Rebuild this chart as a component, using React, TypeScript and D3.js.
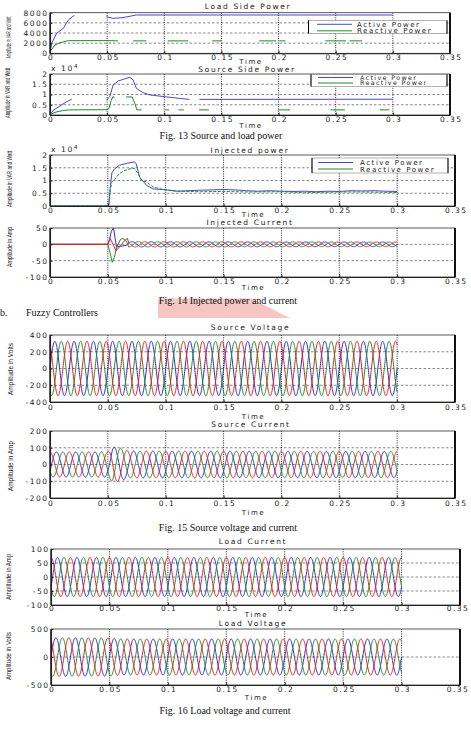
import * as d3 from 'd3';
import { useEffect, useRef } from 'react';

type Pt = [number, number | null];
type Knot = [number, number];

const timeTicks = [0, 0.05, 0.1, 0.15, 0.2, 0.25, 0.3, 0.35];

/* ---------- Fig. 13 : load side power (null = gap in the printed trace) ---------- */
const loadActive: Pt[] = [
  [0, 0], [0.0015, 1970], [0.0058, 3940], [0.0117, 4920], [0.016, 6550], [0.0204, 7340], [0.0215, 7400],
  [0.022, null],
  [0.0495, 7200], [0.055, 6900], [0.063, 7000], [0.07, 7300], [0.0756, 7550], [0.3, 7550],
];
const loadReactive: Pt[] = [
  [0, 350], [0.0044, 1630], [0.0087, 2090], [0.016, 2490], [0.05, 2500], [0.0596, 2450],
  [0.06, null], [0.0727, 2450], [0.0843, 2450],
  [0.085, null], [0.103, 2450], [0.121, 2450],
  [0.122, null], [0.142, 2450], [0.15, 2450],
  [0.151, null], [0.183, 2450], [0.198, 2450],
  [0.199, null], [0.2006, 2450], [0.206, 2450],
  [0.207, null], [0.241, 2450], [0.259, 2450],
  [0.26, null], [0.262, 2450], [0.273, 2450],
];

/* source side power, x 10^4 */
const sourceActive: Pt[] = [
  [0, 0], [0.0029, 0.24], [0.0087, 0.44], [0.0146, 0.65], [0.019, 0.77],
  [0.0195, null],
  [0.0494, 0.73], [0.0523, 0.89], [0.0552, 1.46], [0.0596, 1.66], [0.0654, 1.76], [0.0698, 1.84],
  [0.0727, 1.71], [0.0756, 1.3], [0.0814, 1.09], [0.0872, 0.98], [0.1009, 0.89], [0.1134, 0.81], [0.122, 0.76],
  [0.1225, null],
  [0.1308, 0.76], [0.3, 0.77],
];
const sourceReactive: Pt[] = [
  [0, 0], [0.003, 0.1], [0.007, 0.17], [0.012, 0.22], [0.017, 0.25], [0.05, 0.26],
  [0.0515, 0.3], [0.0535, 0.7], [0.055, 0.9], [0.0565, 0.85],
  [0.058, null], [0.0665, 0.88], [0.072, 0.88], [0.074, 0.6], [0.076, 0.25], [0.08, 0.25],
  [0.081, null], [0.1005, 0.25], [0.104, 0.25],
  [0.105, null], [0.1125, 0.25], [0.117, 0.25],
  [0.118, null], [0.1305, 0.25], [0.139, 0.25],
  [0.14, null], [0.1995, 0.25], [0.21, 0.25],
  [0.211, null], [0.2455, 0.25], [0.258, 0.25],
  [0.259, null], [0.2885, 0.25], [0.297, 0.25],
];

/* ---------- Fig. 14 : injected power (x 10^4) and current ---------- */
const injectedActive: Pt[] = [
  [0, 0], [0.05, 0], [0.0509, 0.05], [0.052, 0.7], [0.0535, 1.3], [0.0558, 1.45], [0.0601, 1.6],
  [0.067, 1.68], [0.0731, 1.73], [0.0745, 1.65], [0.0775, 1.13], [0.0832, 0.82], [0.089, 0.67],
  [0.1, 0.64], [0.11, 0.58], [0.12, 0.6], [0.13, 0.62], [0.14, 0.63], [0.15, 0.65], [0.16, 0.63],
  [0.17, 0.6], [0.18, 0.58], [0.19, 0.6], [0.2, 0.58], [0.21, 0.57], [0.22, 0.58], [0.23, 0.56],
  [0.24, 0.58], [0.25, 0.57], [0.26, 0.6], [0.27, 0.59], [0.28, 0.6], [0.29, 0.58], [0.3, 0.57],
];
const injectedReactive: Pt[] = [
  [0, 0], [0.05, 0], [0.051, 0.1], [0.052, 0.6], [0.0535, 0.95], [0.056, 1.05], [0.06, 1.27],
  [0.065, 1.4], [0.07, 1.47], [0.073, 1.47], [0.076, 1.27], [0.079, 1.0], [0.083, 0.95], [0.086, 0.85],
  [0.089, 0.75], [0.095, 0.68], [0.1, 0.62], [0.11, 0.58], [0.13, 0.56], [0.15, 0.57], [0.17, 0.55],
  [0.2, 0.56], [0.22, 0.52], [0.25, 0.55], [0.27, 0.55], [0.3, 0.53],
];
const injCurBlue: Pt[] = [
  [0, 0], [0.05, 0], [0.0515, 15], [0.053, 40], [0.0549, 50], [0.0562, 20], [0.0575, -8], [0.06, -6],
  [0.063, -5], [0.066, -3],
];
const injCurGreen: Pt[] = [
  [0, 0], [0.05, 0], [0.0515, -20], [0.0538, -55], [0.0555, -40], [0.058, -5], [0.061, 15], [0.063, 18],
  [0.066, 10],
];
const injCurRed: Pt[] = [
  [0, 0], [0.05, 0], [0.0512, 10], [0.052, 18], [0.0545, 0], [0.057, -20], [0.06, -8], [0.064, 10],
  [0.067, 18],
];
const injCurSteadyAmp: Knot[] = [[0.068, 8], [0.3, 7]];

/* ---------- Fig. 15 / 16 : three phase waveforms (60 Hz, peak envelopes) ---------- */
const WAVE_HZ = 60;
const phaseShift = [0, -120, 120]; // blue, green, red (deg)
const sourceVoltageAmp: Knot[] = [[0, 325], [0.3, 325]];
const sourceCurrentAmp: Knot[] = [[0, 75], [0.05, 75], [0.054, 105], [0.06, 100], [0.068, 80], [0.3, 78]];
const currentLag = -30;
const loadCurrentAmp: Knot[] = [[0, 70], [0.3, 70]];
const loadVoltageAmp: Knot[] = [[0, 345], [0.05, 340], [0.06, 322], [0.3, 322]];
const loadVoltageSpike: Pt[] = [[0, -250], [0.0001, 480], [0.0004, 300]];

const legendLabels = ['Active Power', 'Reactive Power'];

const BLUE = '#2a2ade';
const PBLUE = '#4646d8';
const GREEN = '#23892a';
const RED = '#e8201c';
const FONT = '"DejaVu Sans", Verdana, sans-serif';

function wave(env: Knot[], shift: number, t0 = 0, t1 = 0.3): Pt[] {
  const amp = d3.scaleLinear().domain(env.map((d) => d[0])).range(env.map((d) => d[1])).clamp(true);
  return d3.range(t0, t1 + 1e-9, 0.0002).map((t) => [t, amp(t) * Math.sin(2 * Math.PI * WAVE_HZ * t + (shift * Math.PI) / 180)] as Pt);
}

function threePhase(env: Knot[], lag = 0) {
  return [BLUE, GREEN, RED].map((c, i) => ({ data: wave(env, phaseShift[i] + lag), color: c }));
}

export default function App() {
  const ref = useRef<SVGSVGElement | null>(null);

  useEffect(() => {
    if (!ref.current) return;
    const svg = d3.select(ref.current);
    svg.selectAll('*').remove();

    /* pink watermark behind the section heading */
    svg.append('polygon')
      .attr('points', '158,298.5 251,298.5 290,318 158,318')
      .attr('fill', '#f6c6c2');

    const panels: any[] = [
      {
        left: 50, right: 450, top: 12.7, bottom: 53.3, y: [0, 8000], yTicks: [0, 2000, 4000, 6000, 8000],
        title: 'Load Side Power', titleX: 248, titleY: 8.5, timeY: 63.8, pad: 1.5,
        ylabel: 'Amplitude in VAR and Watt', ylabX: 8, ylabY: 37.5, ylabLen: 42,
        series: [
          { data: loadActive, color: PBLUE },
          { data: loadReactive, color: GREEN },
        ],
        legend: { x0: 308.5, x1: 447, y0: 20.5, y1: 33.5, lx: 317, tx: 357, rows: [24.3, 30.8], fs: 7 },
      },
      {
        left: 50, right: 450, top: 74, bottom: 115, y: [0, 2], yTicks: [0, 0.5, 1, 1.5, 2],
        title: 'Source Side Power', titleX: 247, titleY: 72, timeY: 127.5, pad: 1.5, exp: 71,
        ylabel: 'Amplitude in VAR and Watt', ylabX: 7, ylabY: 93, ylabLen: 50,
        series: [
          { data: sourceActive, color: PBLUE },
          { data: sourceReactive, color: GREEN },
        ],
        legend: { x0: 311, x1: 447, y0: 74.5, y1: 86.5, lx: 318, tx: 360, rows: [77.5, 83], fs: 6.3 },
      },
      {
        left: 50, right: 455, top: 155, bottom: 206, y: [0, 2], yTicks: [0, 0.5, 1, 1.5, 2],
        title: 'Injected power', titleX: 250, titleY: 152.5, timeY: 217, pad: 1.2, exp: 152,
        ylabel: 'Amplitude in VAR and Watt', ylabX: 9, ylabY: 179, ylabLen: 56,
        series: [
          { data: injectedActive, color: PBLUE },
          { data: injectedReactive, color: GREEN, dash: '3,1.5' },
        ],
        legend: { x0: 312, x1: 448, y0: 158, y1: 173, lx: 318, tx: 360, rows: [162.5, 169], fs: 7 },
      },
      {
        left: 50, right: 455, top: 228, bottom: 277, y: [-100, 50], yTicks: [-100, -50, 0, 50],
        title: 'Injected Current', titleX: 250, titleY: 224.5, timeY: 290, pad: 1.2,
        ylabel: 'Amplitude in Amp', ylabX: 9, ylabY: 247, ylabLen: 40,
        series: [
          { data: injCurBlue.concat(wave(injCurSteadyAmp, phaseShift[0], 0.068)), color: BLUE },
          { data: injCurGreen.concat(wave(injCurSteadyAmp, phaseShift[1], 0.068)), color: GREEN },
          { data: injCurRed.concat(wave(injCurSteadyAmp, phaseShift[2], 0.068)), color: RED },
        ],
      },
      {
        left: 50, right: 455, top: 335, bottom: 402, y: [-400, 400], yTicks: [-400, -200, 0, 200, 400],
        title: 'Source Voltage', titleX: 250.5, titleY: 330, timeY: 419, pad: 2.2,
        ylabel: 'Amplitude in Volts', ylabX: 10, ylabY: 369, ylabLen: 52,
        series: threePhase(sourceVoltageAmp),
      },
      {
        left: 50, right: 455, top: 431, bottom: 498, y: [-200, 200], yTicks: [-200, -100, 0, 100, 200],
        title: 'Source Current', titleX: 251, titleY: 426.5, timeY: 515, pad: 2.2,
        ylabel: 'Amplitude in Amp', ylabX: 10, ylabY: 466, ylabLen: 50,
        series: threePhase(sourceCurrentAmp, currentLag),
      },
      {
        left: 51, right: 460, top: 549, bottom: 605, y: [-100, 100], yTicks: [-100, -50, 0, 50, 100],
        title: 'Load Current', titleX: 253, titleY: 544, timeY: 617.3, pad: 0.8,
        ylabel: 'Amplitude in Amp', ylabX: 8, ylabY: 577, ylabLen: 46,
        series: threePhase(loadCurrentAmp, currentLag),
      },
      {
        left: 51, right: 460, top: 629, bottom: 685, y: [-500, 500], yTicks: [-500, 0, 500],
        title: 'Load Voltage', titleX: 253, titleY: 625.8, timeY: 700, pad: 1.2,
        ylabel: 'Amplitude in Volts', ylabX: 8, ylabY: 656, ylabLen: 48,
        series: (() => {
          const s = threePhase(loadVoltageAmp);
          s[2] = { data: loadVoltageSpike.concat(s[2].data), color: RED };
          return s;
        })(),
      },
    ];

    panels.forEach((p) => {
      const x = d3.scaleLinear().domain([0, 0.35]).range([p.left, p.right]);
      const y = d3.scaleLinear().domain(p.y).range([p.bottom, p.top]);
      const g = svg.append('g');

      // grid
      g.selectAll('.hg')
        .data(p.yTicks.slice(1, -1))
        .enter()
        .append('line')
        .attr('x1', p.left).attr('x2', p.right)
        .attr('y1', (d: number) => y(d)).attr('y2', (d: number) => y(d))
        .attr('stroke', '#555').attr('stroke-width', 0.7).attr('stroke-dasharray', '2.5,2');
      g.selectAll('.vg')
        .data(timeTicks.slice(1, -1))
        .enter()
        .append('line')
        .attr('x1', (d) => x(d)).attr('x2', (d) => x(d))
        .attr('y1', p.top).attr('y2', p.bottom)
        .attr('stroke', '#111').attr('stroke-width', 0.9).attr('stroke-dasharray', '1,1.3');

      // traces
      const line = d3.line<Pt>()
        .defined((d) => d[1] != null)
        .x((d) => x(d[0]))
        .y((d) => y(d[1] as number));
      p.series.forEach((s: any) => {
        g.append('path')
          .attr('d', line(s.data))
          .attr('fill', 'none')
          .attr('stroke', s.color)
          .attr('stroke-width', 1)
          .attr('stroke-dasharray', s.dash || null);
      });

      // box
      g.append('rect')
        .attr('x', p.left).attr('y', p.top)
        .attr('width', p.right - p.left).attr('height', p.bottom - p.top)
        .attr('fill', 'none').attr('stroke', '#333').attr('stroke-width', 0.8);
      g.append('line')
        .attr('x1', p.right).attr('x2', p.right).attr('y1', p.top).attr('y2', p.bottom)
        .attr('stroke', '#000').attr('stroke-width', 1.8);
      g.append('line')
        .attr('x1', p.left).attr('x2', p.left).attr('y1', p.top).attr('y2', p.bottom)
        .attr('stroke', '#222').attr('stroke-width', 1.1);

      // axes
      const ax = g.append('g')
        .attr('transform', `translate(0,${p.bottom})`)
        .call(d3.axisBottom(x).tickValues(timeTicks).tickFormat((d) => String(d)).tickSizeInner(-2.5).tickSizeOuter(0).tickPadding(p.pad));
      const ay = g.append('g')
        .attr('transform', `translate(${p.left},0)`)
        .call(d3.axisLeft(y).tickValues(p.yTicks).tickFormat((d) => String(d)).tickSizeInner(-2.5).tickSizeOuter(0).tickPadding(1.5));
      [ax, ay].forEach((a) => {
        a.select('.domain').attr('stroke', '#222').attr('stroke-width', 1.1);
        a.selectAll('line').attr('stroke', '#222');
        a.attr('font-family', FONT).attr('font-size', 7.5);
        a.selectAll('text').attr('fill', '#222').attr('letter-spacing', 1.5);
      });
      ax.selectAll('text').attr('dx', (d: any) => (d === 0.35 && p.right > 456 ? -2.5 : 0.75));

      // labels
      const txt = (sx: number, sy: number, s: string, anchor = 'middle', fs = 7.5) =>
        g.append('text')
          .attr('x', sx).attr('y', sy)
          .attr('text-anchor', anchor)
          .attr('font-family', FONT).attr('font-size', fs)
          .attr('letter-spacing', fs * 0.22).attr('fill', '#222')
          .text(s);
      txt(p.titleX, p.titleY, p.title);
      txt((p.left + p.right) / 2 + 1, p.timeY, 'Time', 'middle', 7);

      g.append('text')
        .attr('transform', `translate(${p.ylabX},${p.ylabY}) rotate(-90)`)
        .attr('text-anchor', 'middle')
        .attr('dy', '0.35em')
        .attr('font-family', '"Liberation Sans", Arial, sans-serif')
        .attr('font-size', 7.5)
        .attr('textLength', p.ylabLen)
        .attr('lengthAdjust', 'spacingAndGlyphs')
        .attr('fill', '#222')
        .text(p.ylabel);

      if (p.exp) {
        const e = txt(p.left + 1, p.exp, 'x 10', 'start');
        e.append('tspan').attr('dy', -3).attr('font-size', 5.5).text('4');
      }

      if (p.legend) {
        const L = p.legend;
        g.append('rect')
          .attr('x', L.x0).attr('y', L.y0).attr('width', L.x1 - L.x0).attr('height', L.y1 - L.y0)
          .attr('fill', '#fff').attr('stroke', '#666').attr('stroke-width', 0.5);
        g.append('line').attr('x1', L.x0).attr('x2', L.x0).attr('y1', L.y0).attr('y2', L.y1).attr('stroke', '#000').attr('stroke-width', 1);
        g.append('line').attr('x1', L.x1).attr('x2', L.x1).attr('y1', L.y0).attr('y2', L.y1).attr('stroke', '#000').attr('stroke-width', 1);
        legendLabels.forEach((lab, i) => {
          g.append('line')
            .attr('x1', L.lx).attr('x2', L.lx + 35).attr('y1', L.rows[i]).attr('y2', L.rows[i])
            .attr('stroke', i === 0 ? PBLUE : GREEN).attr('stroke-width', 1);
          txt(L.tx, L.rows[i] + L.fs * 0.36, lab, 'start', L.fs);
        });
      }
    });

    /* captions */
    const cap = (cx: number, cy: number, s: string, anchor = 'middle') =>
      svg.append('text')
        .attr('x', cx).attr('y', cy)
        .attr('text-anchor', anchor)
        .attr('font-family', '"Liberation Serif", "Times New Roman", serif')
        .attr('font-size', 10)
        .attr('fill', '#111')
        .text(s);
    cap(221, 139, 'Fig. 13 Source and load power');
    cap(228, 304, 'Fig. 14 Injected power and current');
    cap(0, 315.5, 'b.', 'start');
    cap(26, 315.5, 'Fuzzy Controllers', 'start');
    cap(228, 530.5, 'Fig. 15 Source voltage and current');
    cap(225, 713.5, 'Fig. 16 Load voltage and current');
  }, []);

  return (
    <svg
      ref={ref}
      width={471}
      height={730}
      viewBox="0 0 471 730"
      style={{ position: 'absolute', left: 0, top: 0, background: '#fff', display: 'block' }}
    />
  );
}
